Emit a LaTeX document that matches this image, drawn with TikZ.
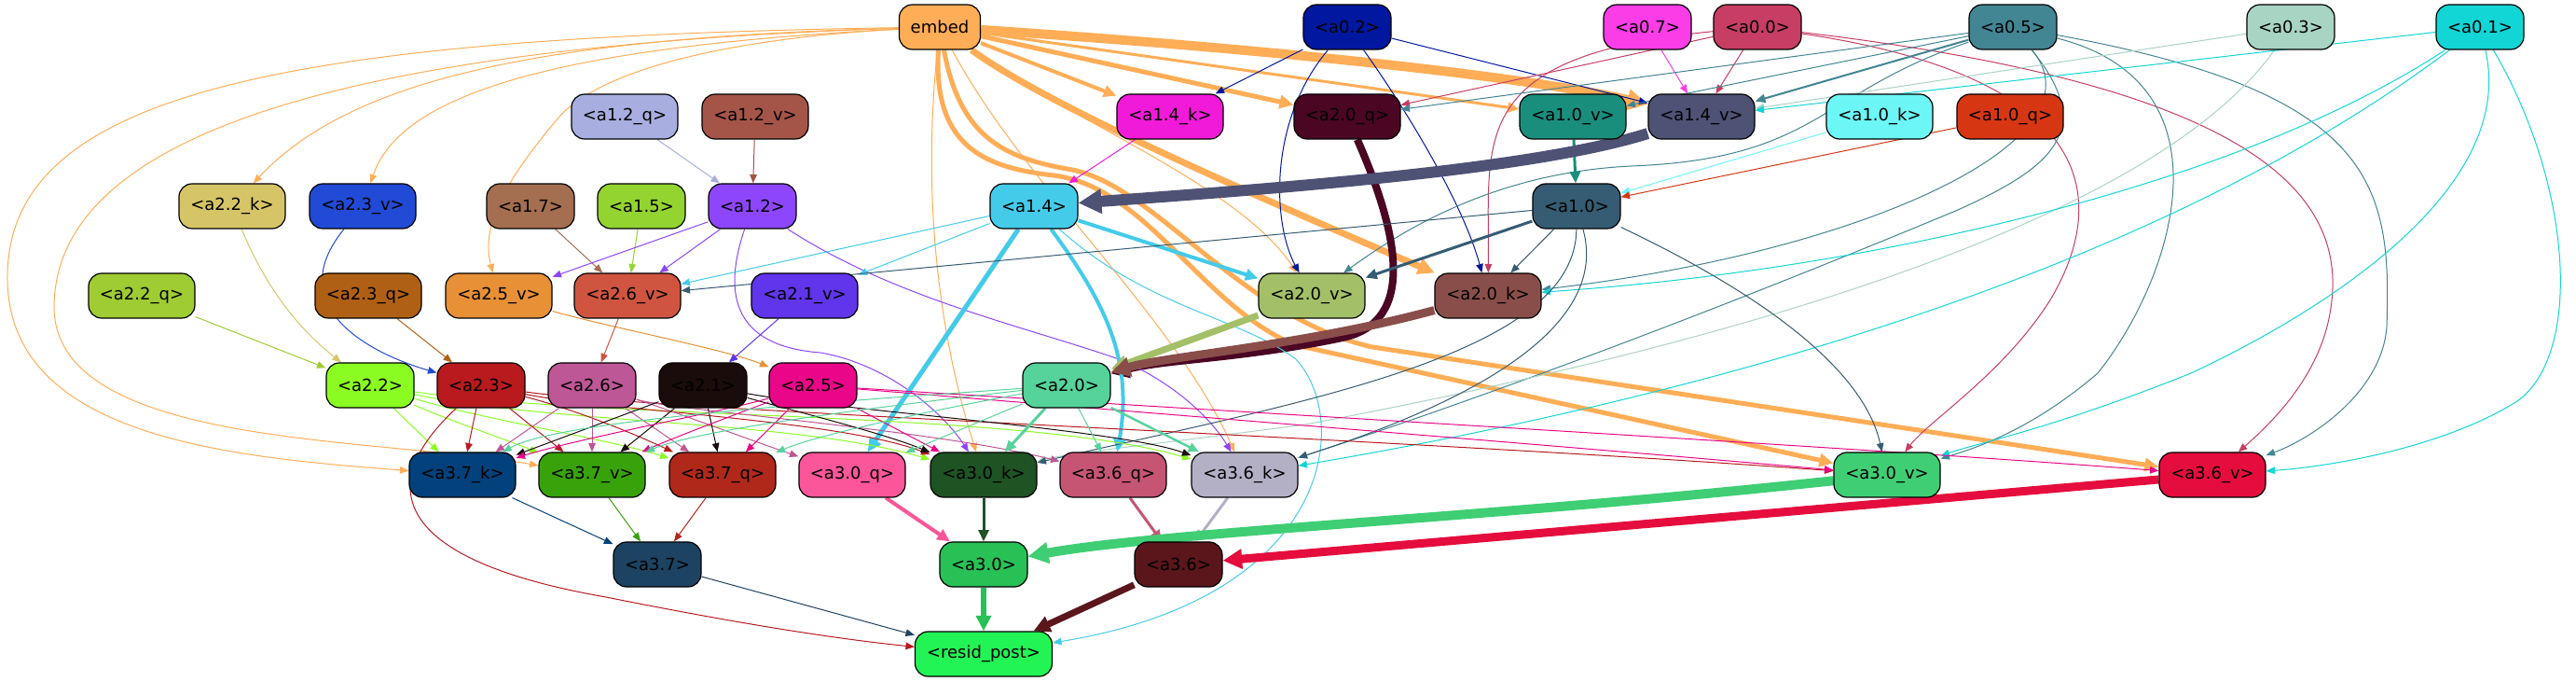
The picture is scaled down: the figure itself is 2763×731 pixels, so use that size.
\documentclass[tikz,border=0pt]{standalone}
\usepackage{fontspec}
\setmainfont{DejaVu Sans}
\usetikzlibrary{arrows.meta}
\pgfdeclarelayer{bg}
\pgfsetlayers{bg,main}
\definecolor{cemb}{HTML}{FFAD56}
\definecolor{c02}{HTML}{0018A0}
\definecolor{c07}{HTML}{FA3DE6}
\definecolor{c00}{HTML}{C73D63}
\definecolor{c05}{HTML}{428593}
\definecolor{c03}{HTML}{A8D4C4}
\definecolor{c01}{HTML}{12D5D5}
\definecolor{c12q}{HTML}{A8AEE0}
\definecolor{c12v}{HTML}{A55448}
\definecolor{c14k}{HTML}{F21AD9}
\definecolor{c20q}{HTML}{4A0623}
\definecolor{c10v}{HTML}{1A8E7D}
\definecolor{c14v}{HTML}{4E5275}
\definecolor{c10k}{HTML}{6DF6F6}
\definecolor{c10q}{HTML}{D73613}
\definecolor{c22k}{HTML}{D6C566}
\definecolor{c23v}{HTML}{214AD6}
\definecolor{c17}{HTML}{A46E50}
\definecolor{c15}{HTML}{93D430}
\definecolor{c12}{HTML}{8D46FB}
\definecolor{c14}{HTML}{44CBEA}
\definecolor{c10}{HTML}{355C73}
\definecolor{c22q}{HTML}{9FCC32}
\definecolor{c23q}{HTML}{B06014}
\definecolor{c25v}{HTML}{E89035}
\definecolor{c26v}{HTML}{D05540}
\definecolor{c21v}{HTML}{6035EB}
\definecolor{c20v}{HTML}{A3C068}
\definecolor{c20k}{HTML}{8A4E4A}
\definecolor{c22}{HTML}{8BFC22}
\definecolor{c23}{HTML}{B81A1E}
\definecolor{c26}{HTML}{BD5795}
\definecolor{c21}{HTML}{1A0C0B}
\definecolor{c25}{HTML}{EA0688}
\definecolor{c20}{HTML}{56D29B}
\definecolor{c37k}{HTML}{02417B}
\definecolor{c37v}{HTML}{38A20A}
\definecolor{c37q}{HTML}{B0281A}
\definecolor{c30q}{HTML}{FA5699}
\definecolor{c30k}{HTML}{1E5324}
\definecolor{c36q}{HTML}{C65574}
\definecolor{c36k}{HTML}{B3B0C6}
\definecolor{c30v}{HTML}{3FCE74}
\definecolor{c36v}{HTML}{E50D3D}
\definecolor{c37}{HTML}{1D4362}
\definecolor{c30}{HTML}{27C156}
\definecolor{c36}{HTML}{5B161B}
\definecolor{cres}{HTML}{22F456}
\tikzset{
  nd/.style={draw=black, line width=0.6pt, rounded corners=7pt, minimum height=24pt, inner sep=0pt, font=\fontsize{9}{11}\selectfont, text=black},
  sn/.style={nd, minimum width=47pt},
  ln/.style={nd, minimum width=57pt},
  ed/.style={-{Triangle[length=4pt 1.4,width=3pt 1.6]}, line width=0.5pt},
}
\begin{document}
\begin{tikzpicture}[x=0.5pt,y=-0.5pt]
\useasboundingbox (0,0) rectangle (2763,731);
% row 0
\node[nd, minimum width=43.5pt, fill=cemb] (embed) at (1008,29) {embed};
\node[sn, fill=c02] (a02) at (1445,29) {<a0.2>};
\node[sn, fill=c07] (a07) at (1767,29) {<a0.7>};
\node[sn, fill=c00] (a00) at (1885,29) {<a0.0>};
\node[sn, fill=c05] (a05) at (2159,29) {<a0.5>};
\node[sn, fill=c03] (a03) at (2457,29) {<a0.3>};
\node[sn, fill=c01] (a01) at (2660,29) {<a0.1>};
% row 1
\node[ln, fill=c12q] (a12q) at (670,125) {<a1.2\_q>};
\node[ln, fill=c12v] (a12v) at (810,125) {<a1.2\_v>};
\node[ln, fill=c14k] (a14k) at (1255,125) {<a1.4\_k>};
\node[ln, fill=c20q] (a20q) at (1445,125) {<a2.0\_q>};
\node[ln, fill=c10v] (a10v) at (1687,125) {<a1.0\_v>};
\node[ln, fill=c14v] (a14v) at (1825,125) {<a1.4\_v>};
\node[ln, fill=c10k] (a10k) at (2016,125) {<a1.0\_k>};
\node[ln, fill=c10q] (a10q) at (2156,125) {<a1.0\_q>};
% row 2
\node[ln, fill=c22k] (a22k) at (249,221) {<a2.2\_k>};
\node[ln, fill=c23v] (a23v) at (389,221) {<a2.3\_v>};
\node[sn, fill=c17] (a17) at (569,221) {<a1.7>};
\node[sn, fill=c15] (a15) at (688,221) {<a1.5>};
\node[sn, fill=c12] (a12) at (807,221) {<a1.2>};
\node[sn, fill=c14] (a14) at (1109,221) {<a1.4>};
\node[sn, fill=c10] (a10) at (1691,221) {<a1.0>};
% row 3
\node[ln, fill=c22q] (a22q) at (152,317) {<a2.2\_q>};
\node[ln, fill=c23q] (a23q) at (395,317) {<a2.3\_q>};
\node[ln, fill=c25v] (a25v) at (535,317) {<a2.5\_v>};
\node[ln, fill=c26v] (a26v) at (673,317) {<a2.6\_v>};
\node[ln, fill=c21v] (a21v) at (863,317) {<a2.1\_v>};
\node[ln, fill=c20v] (a20v) at (1407,317) {<a2.0\_v>};
\node[ln, fill=c20k] (a20k) at (1596,317) {<a2.0\_k>};
% row 4
\node[sn, fill=c22] (a22) at (397,413) {<a2.2>};
\node[sn, fill=c23] (a23) at (516,413) {<a2.3>};
\node[sn, fill=c26] (a26) at (635,413) {<a2.6>};
\node[sn, fill=c21] (a21) at (754,413) {<a2.1>};
\node[sn, fill=c25] (a25) at (872,413) {<a2.5>};
\node[sn, fill=c20] (a20) at (1144,413) {<a2.0>};
% row 5
\node[ln, fill=c37k] (a37k) at (496,509) {<a3.7\_k>};
\node[ln, fill=c37v] (a37v) at (635,509) {<a3.7\_v>};
\node[ln, fill=c37q] (a37q) at (775,509) {<a3.7\_q>};
\node[ln, fill=c30q] (a30q) at (914,509) {<a3.0\_q>};
\node[ln, fill=c30k] (a30k) at (1055,509) {<a3.0\_k>};
\node[ln, fill=c36q] (a36q) at (1194,509) {<a3.6\_q>};
\node[ln, fill=c36k] (a36k) at (1335,509) {<a3.6\_k>};
\node[ln, fill=c30v] (a30v) at (2024,509) {<a3.0\_v>};
\node[ln, fill=c36v] (a36v) at (2373,509) {<a3.6\_v>};
% row 6
\node[sn, fill=c37] (a37) at (705,605) {<a3.7>};
\node[sn, fill=c30] (a30) at (1055,605) {<a3.0>};
\node[sn, fill=c36] (a36) at (1264,605) {<a3.6>};
% row 7
\node[nd, minimum width=73.5pt, fill=cres] (resid) at (1055,701) {<resid\_post>};

\begin{pgfonlayer}{bg}
% embed
\draw[ed,cemb,line width=5pt] (embed) .. controls (1400,55) and (1650,85) .. (a14v);
\draw[ed,cemb,line width=2.5pt] (embed) -- (a20q);
\draw[ed,cemb,line width=2pt] (embed) -- (a14k);
\draw[ed,cemb,line width=1.5pt] (embed) -- (a10v);
\draw[ed,cemb,line width=3.5pt] (embed) .. controls (1120,110) and (1300,190) .. (a20k);
\draw[ed,cemb,line width=2.5pt] (embed) .. controls (1000,160) and (1060,180) .. (1130,188) .. controls (1230,200) and (1290,330) .. (1390,370) -- (a30v);
\draw[ed,cemb,line width=2.5pt] (embed) .. controls (1030,150) and (1080,170) .. (1150,182) .. controls (1240,200) and (1330,340) .. (1472,372) -- (a36v);
\draw[ed,cemb] (embed) .. controls (1150,130) and (1330,200) .. (a20v);
\draw[ed,cemb] (embed) .. controls (600,40) and (380,80) .. (a22k);
\draw[ed,cemb] (embed) .. controls (600,50) and (430,100) .. (a23v);
\draw[ed,cemb] (embed) .. controls (800,40) and (650,70) .. (600,125) .. controls (545,190) and (515,240) .. (a25v);
\draw[ed,cemb] (embed) .. controls (300,40) and (5,100) .. (8,300) .. controls (10,470) and (250,490) .. (a37k);
\draw[ed,cemb] (embed) .. controls (350,50) and (58,150) .. (58,330) .. controls (60,480) and (400,468) .. (a37v);
\draw[ed,cemb] (embed) .. controls (985,250) and (1020,400) .. (a30k);
\draw[ed,cemb] (embed) .. controls (1100,200) and (1260,340) .. (a36k);
% a0.2
\draw[ed,c02] (a02) -- (a14k);
\draw[ed,c02] (a02) -- (a14v);
\draw[ed,c02] (a02) .. controls (1360,130) and (1365,240) .. (a20v);
\draw[ed,c02] (a02) .. controls (1510,120) and (1570,220) .. (a20k);
% a0.7
\draw[ed,c07] (a07) -- (a14v);
% a0.0
\draw[ed,c00] (a00) -- (a14v);
\draw[ed,c00] (a00) -- (a20q);
\draw[ed,c00] (a00) .. controls (1570,60) and (1598,150) .. (a20k);
\draw[ed,c00] (a00) .. controls (2230,80) and (2270,200) .. (2200,320) .. controls (2150,400) and (2070,450) .. (a30v);
\draw[ed,c00] (a00) .. controls (2400,90) and (2520,200) .. (2500,330) .. controls (2490,400) and (2440,450) .. (a36v);
% a0.5
\draw[ed,c05,line width=1pt] (a05) -- (a14v);
\draw[ed,c05] (a05) -- (a10v);
\draw[ed,c05] (a05) -- (a20q);
\draw[ed,c05] (a05) .. controls (1950,100) and (1950,170) .. (1750,178) .. controls (1600,185) and (1500,250) .. (a20v);
\draw[ed,c05] (a05) .. controls (2260,150) and (2000,270) .. (a20k);
\draw[ed,c05] (a05) .. controls (2250,140) and (2200,180) .. (2100,225) .. controls (1800,350) and (1550,440) .. (a36k);
\draw[ed,c05] (a05) .. controls (2400,90) and (2330,300) .. (2250,400) .. controls (2180,460) and (2120,480) .. (a30v);
\draw[ed,c05] (a05) .. controls (2550,100) and (2565,200) .. (2560,350) .. controls (2555,420) and (2480,470) .. (a36v);
% a0.3
\draw[ed,c03] (a03) -- (a14v);
\draw[ed,c03] (a03) .. controls (2300,250) and (1800,380) .. (1400,455) .. controls (1250,475) and (1150,485) .. (a30k);
% a0.1
\draw[ed,c01] (a01) -- (a14v);
\draw[ed,c01] (a01) .. controls (2400,200) and (2000,290) .. (a20k);
\draw[ed,c01] (a01) .. controls (2300,300) and (1800,430) .. (a36k);
\draw[ed,c01] (a01) .. controls (2700,200) and (2500,330) .. (2350,400) .. controls (2200,460) and (2120,475) .. (a30v);
\draw[ed,c01] (a01) .. controls (2760,200) and (2770,380) .. (2700,430) .. controls (2620,480) and (2500,500) .. (a36v);
% level 1
\draw[ed,c12q] (a12q) -- (a12);
\draw[ed,c12v] (a12v) -- (a12);
\draw[ed,c14k] (a14k) -- (a14);
\draw[ed,c20q,line width=4pt] (a20q) .. controls (1500,250) and (1520,345) .. (1440,362) .. controls (1330,385) and (1250,385) .. (a20);
\draw[ed,c10v,line width=1.5pt] (a10v) -- (a10);
\draw[ed,c14v,line width=6pt] (a14v) .. controls (1650,180) and (1400,200) .. (a14);
\draw[ed,c10k] (a10k) -- (a10);
\draw[ed,c10q] (a10q) -- (a10);
% level 2
\draw[ed,c22k] (a22k) .. controls (290,320) and (330,360) .. (a22);
\draw[ed,c23v] (a23v) .. controls (300,330) and (400,380) .. (a23);
\draw[ed,c17] (a17) -- (a26v);
\draw[ed,c15] (a15) -- (a26v);
\draw[ed,c12] (a12) -- (a26v);
\draw[ed,c12] (a12) -- (a25v);
\draw[ed,c12] (a12) .. controls (770,330) and (800,372) .. (880,378) .. controls (950,390) and (1010,440) .. (a30k);
\draw[ed,c12] (a12) .. controls (960,320) and (1100,350) .. (1200,385) .. controls (1260,410) and (1300,450) .. (a36k);
\draw[ed,c14] (a14) -- (a26v);
\draw[ed,c14] (a14) -- (a21v);
\draw[ed,c14,line width=2pt] (a14) -- (a20v);
\draw[ed,c14,line width=2.5pt] (a14) -- (a30q);
\draw[ed,c14,line width=2pt] (a14) .. controls (1190,330) and (1215,390) .. (a36q);
\draw[ed,c14] (a14) .. controls (1230,330) and (1330,340) .. (1390,385) .. controls (1450,450) and (1430,640) .. (resid);
\draw[ed,c10] (a10) -- (a26v);
\draw[ed,c10,line width=1.5pt] (a10) -- (a20v);
\draw[ed,c10] (a10) -- (a20k);
\draw[ed,c10] (a10) .. controls (1690,380) and (1400,430) .. (a30k);
\draw[ed,c10] (a10) .. controls (1730,360) and (1550,440) .. (a36k);
\draw[ed,c10] (a10) .. controls (1900,320) and (2000,400) .. (a30v);
% level 3
\draw[ed,c22q] (a22q) -- (a22);
\draw[ed,c23q] (a23q) -- (a23);
\draw[ed,c25v] (a25v) .. controls (650,350) and (780,375) .. (a25);
\draw[ed,c26v] (a26v) -- (a26);
\draw[ed,c21v] (a21v) -- (a21);
\draw[ed,c20v,line width=3.5pt] (a20v) -- (a20);
\draw[ed,c20k,line width=4.5pt] (a20k) .. controls (1400,370) and (1250,382) .. (a20);
% level 4 -> 5
\draw[ed,c22] (a22) -- (a37k);
\draw[ed,c22] (a22) .. controls (480,450) and (540,470) .. (a37v);
\draw[ed,c22] (a22) .. controls (520,450) and (650,470) .. (a37q);
\draw[ed,c22] (a22) .. controls (600,455) and (850,450) .. (a30k);
\draw[ed,c22] (a22) .. controls (650,450) and (1100,440) .. (a36k);
\draw[ed,c23] (a23) -- (a37k);
\draw[ed,c23] (a23) -- (a37v);
\draw[ed,c23] (a23) .. controls (620,440) and (680,465) .. (a37q);
\draw[ed,c23] (a23) .. controls (650,440) and (900,450) .. (a30k);
\draw[ed,c23] (a23) .. controls (700,440) and (1500,470) .. (a30v);
\draw[ed,c23] (a23) .. controls (400,520) and (420,600) .. (650,640) .. controls (800,670) and (900,685) .. (resid);
\draw[ed,c26] (a26) -- (a37k);
\draw[ed,c26] (a26) -- (a37v);
\draw[ed,c26] (a26) -- (a37q);
\draw[ed,c26] (a26) .. controls (720,440) and (800,470) .. (a30q);
\draw[ed,c26] (a26) .. controls (720,440) and (1000,460) .. (a36q);
\draw[ed,c21] (a21) -- (a37k);
\draw[ed,c21] (a21) -- (a37v);
\draw[ed,c21] (a21) -- (a37q);
\draw[ed,c21] (a21) .. controls (850,440) and (950,465) .. (a30k);
\draw[ed,c21] (a21) .. controls (900,440) and (1200,460) .. (a36k);
\draw[ed,c25] (a25) .. controls (780,440) and (620,470) .. (a37k);
\draw[ed,c25] (a25) .. controls (800,440) and (720,470) .. (a37v);
\draw[ed,c25] (a25) -- (a37q);
\draw[ed,c25] (a25) -- (a30k);
\draw[ed,c25] (a25) .. controls (1200,440) and (1700,480) .. (a30v);
\draw[ed,c25] (a25) .. controls (1300,440) and (2000,480) .. (a36v);
\draw[ed,c20] (a20) .. controls (900,430) and (600,450) .. (a37k);
\draw[ed,c20] (a20) .. controls (950,435) and (750,460) .. (a37v);
\draw[ed,c20] (a20) .. controls (1000,440) and (880,465) .. (a37q);
\draw[ed,c20] (a20) -- (a30q);
\draw[ed,c20,line width=1.5pt] (a20) -- (a30k);
\draw[ed,c20] (a20) -- (a36q);
\draw[ed,c20,line width=1.2pt] (a20) -- (a36k);
% level 5 -> 6
\draw[ed,c37k] (a37k) -- (a37);
\draw[ed,c37v] (a37v) -- (a37);
\draw[ed,c37q] (a37q) -- (a37);
\draw[ed,c30q,line width=2pt] (a30q) -- (a30);
\draw[ed,c30k,line width=1.5pt] (a30k) -- (a30);
\draw[ed,c36q,line width=1.5pt] (a36q) -- (a36);
\draw[ed,c36k,line width=1.5pt] (a36k) -- (a36);
\draw[ed,c30v,line width=5pt] (a30v) .. controls (1600,555) and (1250,570) .. (a30);
\draw[ed,c36v,line width=4.5pt] (a36v) -- (a36);
% to resid
\draw[ed,c37] (a37) -- (resid);
\draw[ed,c30,line width=3pt] (a30) -- (resid);
\draw[ed,c36,line width=3.5pt] (a36) -- (resid);
\end{pgfonlayer}
\end{tikzpicture}
\end{document}
